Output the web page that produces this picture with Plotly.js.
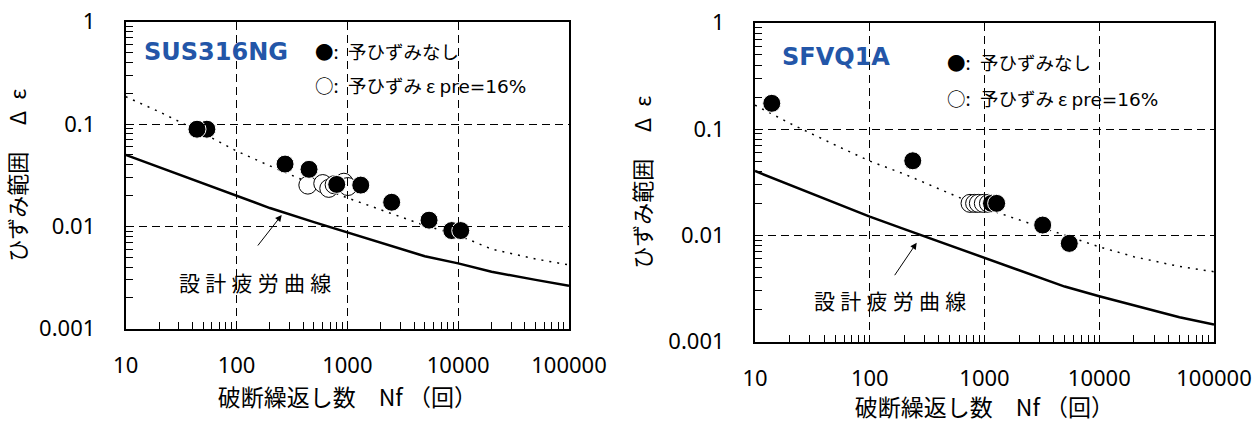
<!DOCTYPE html>
<html>
<head>
<meta charset="utf-8">
<script src="https://cdn.plot.ly/plotly-3.0.1.min.js"></script>
<style>html,body{margin:0;padding:0;background:#fff;}</style>
</head>
<body>
<div id="chart" style="width:1257px;height:423px;"></div>
<script>
// ---- axis ticks ----
const xTickVals = [10, 100, 1000, 10000, 100000];
const xTickText = ['10', '100', '1000', '10000', '100000'];
const yTickVals = [0.001, 0.01, 0.1, 1];
const yTickText = ['0.001', '0.01', '0.1', '1'];

// ---- curve sample points (cycles) ----
const curveN = [10, 20, 50, 100, 200, 500, 1000, 2000, 5000, 10000, 20000, 50000, 100000];

// ---- SUS316NG (left) ----
const susDesign = [0.050, 0.038, 0.0262, 0.0198, 0.0151, 0.0110, 0.0087, 0.0070, 0.0051, 0.00435, 0.0036, 0.0030, 0.00263];
const susBest   = [0.185, 0.132, 0.081, 0.0545, 0.039, 0.0255, 0.019, 0.0145, 0.0102, 0.0082, 0.0060, 0.0048, 0.0042];
const susOpenN  = [440, 600, 680, 760, 930, 1010];
const susOpenE  = [0.0253, 0.0262, 0.0235, 0.0255, 0.027, 0.0245];
const susFillN  = [54, 44, 274, 451, 802, 1321, 2512, 5460, 8750, 10550];
const susFillE  = [0.089, 0.089, 0.0406, 0.0361, 0.0257, 0.0253, 0.0172, 0.0115, 0.0091, 0.0091];

// ---- SFVQ1A (right) ----
const sfDesign = [0.0403, 0.0299, 0.0202, 0.0150, 0.01145, 0.0080, 0.0061, 0.00465, 0.0033, 0.00268, 0.0022, 0.0017, 0.00145];
const sfBest   = [0.168, 0.1135, 0.0707, 0.050, 0.0377, 0.0248, 0.018, 0.0140, 0.0100, 0.0078, 0.0063, 0.0051, 0.00455];
const sfOpenN  = [748, 820, 884, 977, 1082];
const sfOpenE  = [0.020, 0.020, 0.020, 0.020, 0.020];
const sfFillN  = [14, 237, 1150, 1276, 3214, 5480];
const sfFillE  = [0.1745, 0.0503, 0.020, 0.020, 0.0125, 0.0084];

// ---- texts ----
const xTitle = '破断繰返し数\u3000Nf （回）';
const yTitle = 'ひずみ範囲\u3000\u2009Δ\u2002ε';
const legFilled = '●:\u2002予ひずみなし';
const legOpen = '○:\u2002予ひずみ ε <span style="font-family:\'DejaVu Sans\'">pre=16%</span>';
const curveLabel = '設\u2005計\u2005疲\u2005労\u2005曲\u2005線';

// all tick positions: decades get a label, 2..9 multiples get an empty label
const xAllVals = [], xAllText = [];
[10, 100, 1000, 10000].forEach(d => { for (let k = 1; k <= 9; k++) { xAllVals.push(d * k); xAllText.push(k === 1 ? xTickText[xTickVals.indexOf(d)] : ''); } });
xAllVals.push(100000); xAllText.push(xTickText[4]);
const yAllVals = [], yAllText = [];
[0.001, 0.01, 0.1].forEach(d => { for (let k = 1; k <= 9; k++) { yAllVals.push(d * k); yAllText.push(k === 1 ? yTickText[yTickVals.indexOf(d)] : ''); } });
yAllVals.push(1); yAllText.push(yTickText[3]);

function panelTraces(xg, yg, xm, ym, design, best, openN, openE, fillN, fillE) {
  return [
    {x: curveN, y: design, xaxis: xm, yaxis: ym, mode: 'lines', type: 'scatter',
     line: {color: 'black', width: 2.5}, hoverinfo: 'skip'},
    {x: curveN, y: best, xaxis: xm, yaxis: ym, mode: 'lines', type: 'scatter',
     line: {color: 'black', width: 1.5, dash: '2px,6px'}, hoverinfo: 'skip'},
    {x: openN, y: openE, xaxis: xm, yaxis: ym, mode: 'markers', type: 'scatter',
     marker: {symbol: 'circle', size: 18, color: 'white', line: {color: 'black', width: 1}}},
    {x: fillN, y: fillE, xaxis: xm, yaxis: ym, mode: 'markers', type: 'scatter',
     marker: {symbol: 'circle', size: 18, color: 'black', line: {color: 'white', width: 1}}},
    // empty trace so the grid subplot exists
    {x: [], y: [], xaxis: xg, yaxis: yg, type: 'scatter', mode: 'lines', hoverinfo: 'skip'}
  ];
}

// main axes (x, y, x2, y2) carry the data, frame, ticks and labels;
// grid axes (x3, y3, x4, y4) sit underneath and carry the dashed decade grid
const data = [
  ...panelTraces('x3', 'y3', 'x', 'y', susDesign, susBest, susOpenN, susOpenE, susFillN, susFillE),
  ...panelTraces('x4', 'y4', 'x2', 'y2', sfDesign, sfBest, sfOpenN, sfOpenE, sfFillN, sfFillE)
];

const tf = {family: 'Noto Sans', size: 22, color: 'black'};
function xAxis(domain, anchor, standoff) {
  return {
    domain: domain, anchor: anchor, type: 'log', range: [1, 5],
    showline: true, linecolor: 'black', linewidth: 2, mirror: true,
    ticks: 'inside', ticklen: 7, tickcolor: 'black', tickwidth: 1,
    tickmode: 'array', tickvals: xAllVals, ticktext: xAllText,
    tickfont: tf, ticklabelstandoff: 16,
    showgrid: false, zeroline: false,
    title: {text: xTitle, font: {family: 'Noto Sans CJK JP', size: 23, color: 'black'}, standoff: standoff}
  };
}
function yAxis(domain, anchor) {
  return {
    domain: domain, anchor: anchor, type: 'log', range: [-3, 0],
    showline: true, linecolor: 'black', linewidth: 2, mirror: true,
    ticks: 'inside', ticklen: 7, tickcolor: 'black', tickwidth: 1,
    tickmode: 'array', tickvals: yAllVals, ticktext: yAllText,
    tickfont: tf, ticklabelstandoff: 24,
    showgrid: false, zeroline: false,
    title: {text: yTitle, font: {family: 'Noto Sans CJK JP', size: 22, color: 'black'}, standoff: 11}
  };
}
function gridX(domain, anchor) {
  return {domain: domain, anchor: anchor, type: 'log', range: [1, 5],
          tickmode: 'array', tickvals: xTickVals, ticks: '', showticklabels: false,
          showgrid: true, gridcolor: 'black', gridwidth: 1, griddash: '8px,5px',
          showline: false, zeroline: false};
}
function gridY(domain, anchor) {
  return {domain: domain, anchor: anchor, type: 'log', range: [-3, 0],
          tickmode: 'array', tickvals: yTickVals, ticks: '', showticklabels: false,
          showgrid: true, gridcolor: 'black', gridwidth: 1, griddash: '8px,5px',
          showline: false, zeroline: false};
}

const W = 1257, H = 423;
const px = v => v / W, py = v => 1 - v / H;

function txt(x, y, text, font, anchor) {
  return {xref: 'paper', yref: 'paper', x: px(x), y: py(y), text: text, showarrow: false,
          xanchor: anchor || 'left', yanchor: 'middle', font: font};
}
const titleFont = {family: 'DejaVu Sans', size: 24, color: '#2356A8'};
const legFont = {family: 'Noto Sans CJK JP', size: 18.5, color: 'black'};
const lblFont = {family: 'Noto Sans CJK JP', size: 21, color: 'black'};

const annotations = [
  txt(142, 51.7, '<b>SUS316NG</b>', titleFont),
  txt(313, 50.7, legFilled, legFont),
  txt(313, 85, legOpen, legFont),
  txt(177, 281.7, curveLabel, lblFont),
  {xref: 'paper', yref: 'paper', x: px(281.7), y: py(215), ax: -25, ay: 32, text: '',
   showarrow: true, arrowhead: 2, arrowsize: 1.3, arrowwidth: 1, arrowcolor: 'black', standoff: 0},

  txt(780, 56.7, '<b>SFVQ1A</b>', titleFont),
  txt(945, 61.7, legFilled, legFont),
  txt(945, 98.3, legOpen, legFont),
  txt(811.5, 300, curveLabel, lblFont),
  {xref: 'paper', yref: 'paper', x: px(916.7), y: py(242.7), ax: -23, ay: 34, text: '',
   showarrow: true, arrowhead: 2, arrowsize: 1.3, arrowwidth: 1, arrowcolor: 'black', standoff: 0}
];

const dL = [125.7 / W, 569 / W], rL = [1 - 328.7 / H, 1 - 21.7 / H];
const dR = [755 / W, 1214 / W], rR = [1 - 341.7 / H, 1 - 22.7 / H];

const layout = {
  width: W, height: H, margin: {l: 0, r: 0, t: 0, b: 0},
  paper_bgcolor: 'white', plot_bgcolor: 'rgba(0,0,0,0)', showlegend: false,
  font: {family: 'Noto Sans, Noto Sans CJK JP', size: 22, color: 'black'},
  xaxis3: gridX(dL, 'y3'),
  yaxis3: gridY(rL, 'x3'),
  xaxis4: gridX(dR, 'y4'),
  yaxis4: gridY(rR, 'x4'),
  xaxis: xAxis(dL, 'y', 4),
  yaxis: yAxis(rL, 'x'),
  xaxis2: xAxis(dR, 'y2', 1),
  yaxis2: yAxis(rR, 'x2'),
  annotations: annotations
};

Plotly.newPlot('chart', data, layout, {staticPlot: true, displayModeBar: false});
</script>
</body>
</html>
